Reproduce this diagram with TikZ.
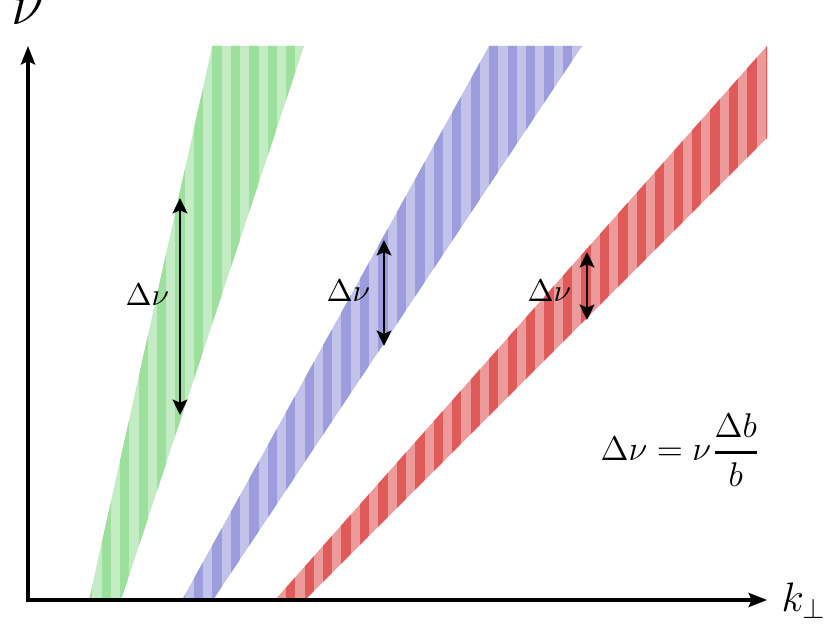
\documentclass[tikz,border=0pt]{standalone}
\usepackage{amsmath}
\usetikzlibrary{arrows.meta}
\definecolor{gL}{RGB}{196,236,196}
\definecolor{gD}{RGB}{157,224,157}
\definecolor{bL}{RGB}{194,194,234}
\definecolor{bD}{RGB}{157,157,222}
\definecolor{rL}{RGB}{236,154,154}
\definecolor{rD}{RGB}{224,90,90}
\begin{document}
\begin{tikzpicture}[x=0.35pt,y=-0.35pt,
  axis/.style={line width=1.1pt,{Stealth[length=6.5pt,width=5pt,inset=1.2pt]}-{Stealth[length=6.5pt,width=5pt,inset=1.2pt]}},
  dnu/.style={line width=0.9pt,{Stealth[length=5.4pt,width=5.2pt,inset=1.1pt]}-{Stealth[length=5.4pt,width=5.2pt,inset=1.1pt]}},
  lab/.style={inner sep=0pt,anchor=base west,font=\fontsize{11}{13}\selectfont}]
\useasboundingbox (0,0) rectangle (831,628);
% green band
\begin{scope}
  \clip (89,600) -- (212.3,46) -- (304,46) -- (121,600) -- cycle;
  \fill[gL] (80,40) rectangle (320,600);
  \foreach \i in {-8,...,6} \fill[gD] ({212.3+18.45*\i},40) rectangle ({212.3+18.45*\i+9.3},600);
\end{scope}
% blue band
\begin{scope}
  \clip (182,600) -- (489,46) -- (582,46) -- (213,600) -- cycle;
  \fill[bL] (170,40) rectangle (600,600);
  \foreach \i in {-3,...,21} \fill[bD] ({212.3+18.45*\i},40) rectangle ({212.3+18.45*\i+9.3},600);
\end{scope}
% red band
\begin{scope}
  \clip (275,600) -- (767,46) -- (767,138) -- (305,600) -- cycle;
  \fill[rL] (260,40) rectangle (780,600);
  \foreach \i in {2,...,31} \fill[rD] ({212.3+18.45*\i},40) rectangle ({212.3+18.45*\i+9.3},600);
\end{scope}
% axes
\coordinate (O) at (28,600);
\coordinate (Y) at (28,46);
\coordinate (X) at (767,600);
\draw[axis] (Y) -- (O) -- (X);
\node[inner sep=0pt,anchor=base,font=\huge] (nu) at (28,25) {$\nu$};
\node[inner sep=0pt,anchor=base west,font=\Large] (kp) at (781,612) {$k_\perp$};
% delta nu arrows
\coordinate (g1) at (180,198); \coordinate (g2) at (180,415);
\coordinate (b1) at (384,240); \coordinate (b2) at (384,346);
\coordinate (r1) at (587,252); \coordinate (r2) at (587,320);
\draw[dnu] (g1) -- (g2);
\draw[dnu] (b1) -- (b2);
\draw[dnu] (r1) -- (r2);
\node[lab] (gl) at (125,306) {$\Delta\nu$};
\node[lab] (bl) at (326,302) {$\Delta\nu$};
\node[lab] (rl) at (527,302) {$\Delta\nu$};
\node[lab,font=\fontsize{11.6}{14}\selectfont] (f) at (600,461) {$\Delta\nu=\nu\genfrac{}{}{1pt}{0}{\Delta b}{b}$};
\end{tikzpicture}
\end{document}
